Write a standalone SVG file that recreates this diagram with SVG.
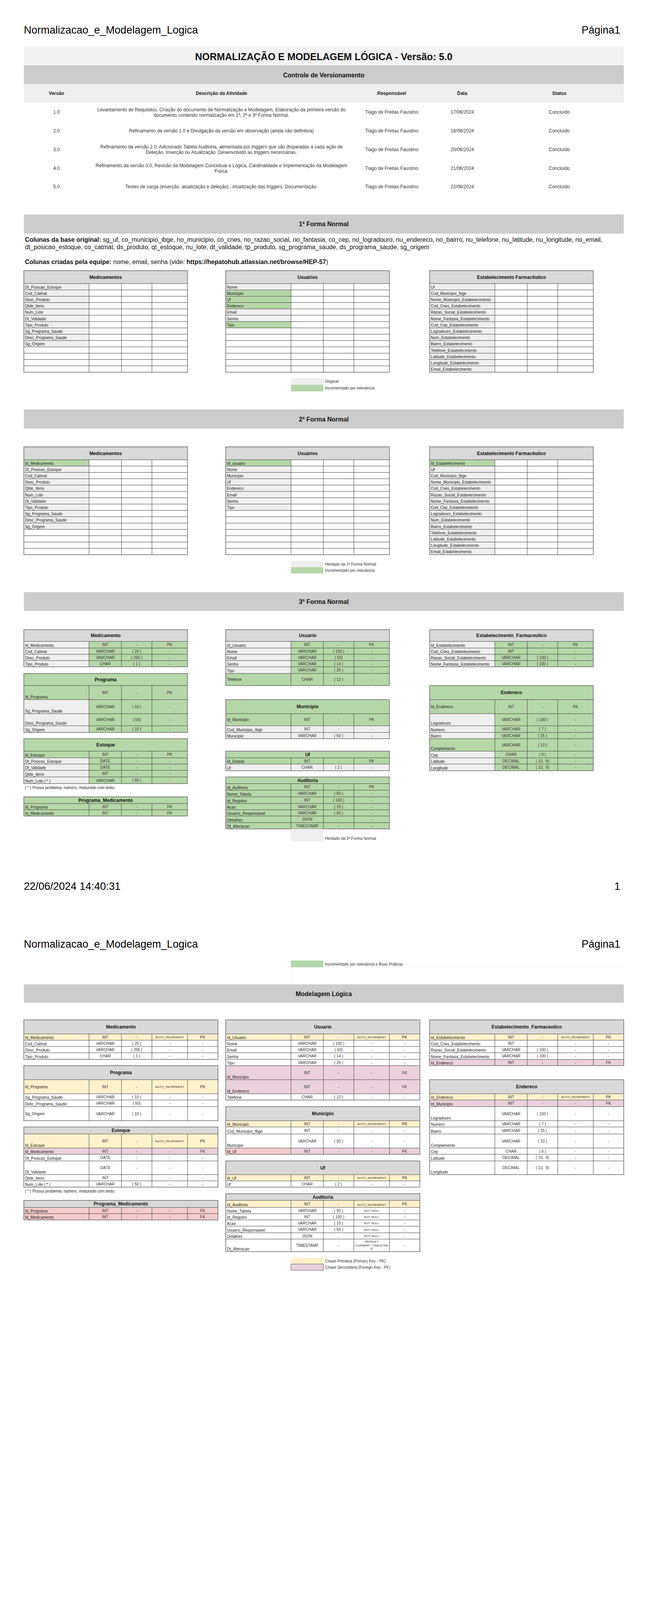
<svg xmlns="http://www.w3.org/2000/svg" xmlns:xlink="http://www.w3.org/1999/xlink" width="1654" height="4680" viewBox="0 0 1654 4680">
<style>
text{font-family:"Liberation Sans",Arial,Helvetica,sans-serif;fill:#222}
.pg{font-size:27px;fill:#000}
.ti{font-size:25px;font-weight:bold;text-anchor:middle;fill:#111}
.band{font-size:16px;font-weight:bold;text-anchor:middle;fill:#111}
.vh{font-size:12px;font-weight:bold;text-anchor:middle}
.vr{font-size:12px;text-anchor:middle;fill:#333}
.par{font-size:16px;fill:#111}
.b{font-weight:bold}
.n{font-size:10px}
.v{font-size:10px;text-anchor:middle;fill:#333}
.s{font-size:8px;text-anchor:middle;fill:#333}
.h{font-size:12px;font-weight:bold;text-anchor:middle;fill:#111}
.lg{font-size:10px;fill:#333}
.ln{fill:none;stroke:#3d3d3d;stroke-width:1}
.ob{fill:none;stroke:#6e6e6e;stroke-width:1.6}
.hd{fill:#d9d9d9}.gy{fill:#efefef}.gr{fill:#b6d7a8}.yl{fill:#fff2cc}.pu{fill:#ead1dc}.pk{fill:#f4cccc}.wh{fill:#fff}
</style>
<defs>
<path id="g14" class="ln" d="M0 0H419M0 16.2H419M0 32.4H419M0 48.6H419M0 64.8H419M0 81H419M0 97.2H419M0 113.4H419M0 129.6H419M0 145.8H419M0 162H419M0 178.2H419M0 194.4H419M0 210.6H419M167 0V226.8M250 0V226.8M328 0V226.8"/>
<path id="g15" class="ln" d="M0 0H419M0 16.2H419M0 32.4H419M0 48.6H419M0 64.8H419M0 81H419M0 97.2H419M0 113.4H419M0 129.6H419M0 145.8H419M0 162H419M0 178.2H419M0 194.4H419M0 210.6H419M0 226.8H419M167 0V243M250 0V243M328 0V243"/>
</defs>
<rect x="0" y="0" width="1654" height="4680" fill="#fff"/>

<!-- ================= PAGE 1 ================= -->
<g id="page1-header">
<text class="pg" x="61" y="86">Normalizacao_e_Modelagem_Logica</text>
<text class="pg" x="1588" y="86" text-anchor="end">Página1</text>
</g>

<g id="title">
<rect x="61" y="119" width="1536" height="48" fill="#f3f3f3"/>
<text class="ti" x="829" y="154">NORMALIZAÇÃO E MODELAGEM LÓGICA - Versão: 5.0</text>
</g>

<g id="versionamento">
<rect x="61" y="167" width="1536" height="48" fill="#cccccc"/>
<text class="band" x="829" y="198">Controle de Versionamento</text>
<rect x="61" y="215" width="1536" height="48" fill="#efefef"/>
<text class="vh" x="144.5" y="243">Versão</text>
<text class="vh" x="567" y="243">Descrição da Atividade</text>
<text class="vh" x="1003" y="243">Responsável</text>
<text class="vh" x="1183.5" y="243">Data</text>
<text class="vh" x="1432" y="243">Status</text>

<text class="vr" x="144.5" y="291">1.0</text>
<text class="vr" x="567" y="285">Levantamento de Requisitos, Criação do documento de Normalização e Modelagem, Elaboração da primeira versão do</text>
<text class="vr" x="567" y="299">documento contendo normalização em 1ª, 2ª e 3ª Forma Normal.</text>
<text class="vr" x="1003" y="291">Tiago de Freitas Faustino</text>
<text class="vr" x="1183.5" y="291">17/06/2024</text>
<text class="vr" x="1432" y="291">Concluído</text>

<text class="vr" x="144.5" y="339">2.0</text>
<text class="vr" x="567" y="339">Refinamento da versão 1.0 e Divulgação da versão em observação (ainda não definitiva)</text>
<text class="vr" x="1003" y="339">Tiago de Freitas Faustino</text>
<text class="vr" x="1183.5" y="339">18/06/2024</text>
<text class="vr" x="1432" y="339">Concluído</text>

<text class="vr" x="144.5" y="387">3.0</text>
<text class="vr" x="567" y="380">Refinamento da versão 2.0. Adicionado Tabela Auditoria, alimentada por triggers que são disparadas a cada ação de</text>
<text class="vr" x="567" y="394">Deleção, Inserção ou Atualização. Desenvolvido as triggers necessárias.</text>
<text class="vr" x="1003" y="387">Tiago de Freitas Faustino</text>
<text class="vr" x="1183.5" y="387">20/06/2024</text>
<text class="vr" x="1432" y="387">Concluído</text>

<text class="vr" x="144.5" y="435">4.0</text>
<text class="vr" x="567" y="428">Refinamento da versão 3.0, Revisão da Modelagem Conceitual e Lógica, Cardinalidade e Implementação da Modelagem</text>
<text class="vr" x="567" y="442">Física.</text>
<text class="vr" x="1003" y="435">Tiago de Freitas Faustino</text>
<text class="vr" x="1183.5" y="435">21/06/2024</text>
<text class="vr" x="1432" y="435">Concluído</text>

<text class="vr" x="144.5" y="482">5.0</text>
<text class="vr" x="567" y="482">Testes de carga (inserção, atualização e deleção) , Atualização das triggers, Documentação.</text>
<text class="vr" x="1003" y="482">Tiago de Freitas Faustino</text>
<text class="vr" x="1183.5" y="482">22/06/2024</text>
<text class="vr" x="1432" y="482">Concluído</text>
</g>

<!-- 1a Forma Normal -->
<g id="fn1-band">
<rect x="61" y="549" width="1536" height="49" fill="#cccccc"/>
<text class="band" x="829" y="579">1ª Forma Normal</text>
<text class="par" x="64" y="619"><tspan class="b">Colunas da base original:</tspan> sg_uf, co_municipio_ibge, no_municipio, co_cnes, no_razao_social, no_fantasia, co_cep, no_logradouro, nu_endereco, no_bairro, nu_telefone, nu_latitude, nu_longitude, no_email,</text>
<text class="par" x="64" y="638">dt_posicao_estoque, co_catmat, ds_produto, qt_estoque, nu_lote, dt_validade, tp_produto, sg_programa_saude,  ds_programa_saude, sg_origem</text>
<text class="par" x="64" y="676"><tspan class="b">Colunas criadas pela equipe:</tspan> nome, email, senha (vide: <tspan class="b">https://hepatohub.atlassian.net/browse/HEP-57</tspan>)</text>
</g>

<g id="fn1-medicamentos">
<rect class="wh" x="61" y="693" width="419" height="259.8"/>
<rect class="hd" x="61" y="693" width="419" height="33"/>
<rect class="gy" x="61" y="726" width="167" height="162"/>
<use xlink:href="#g14" href="#g14" x="61" y="726"/>
<rect class="ob" x="61" y="693" width="419" height="259.8"/>
<text class="h" x="270.5" y="714">Medicamentos</text>
<text class="n" x="64" y="738.6">Dt_Posicao_Estoque</text>
<text class="n" x="64" y="754.8">Cod_Catmat</text>
<text class="n" x="64" y="771">Desc_Produto</text>
<text class="n" x="64" y="787.2">Qtde_Itens</text>
<text class="n" x="64" y="803.4">Num_Lote</text>
<text class="n" x="64" y="819.6">Dt_Validade</text>
<text class="n" x="64" y="835.8">Tipo_Produto</text>
<text class="n" x="64" y="852">Sg_Programa_Saude</text>
<text class="n" x="64" y="868.2">Desc_Programa_Saude</text>
<text class="n" x="64" y="884.4">Sg_Origem</text>
</g>

<g id="fn1-usuarios">
<rect class="wh" x="578" y="693" width="419" height="259.8"/>
<rect class="hd" x="578" y="693" width="419" height="33"/>
<rect class="gy" x="578" y="726" width="167" height="16.2"/>
<rect class="gr" x="578" y="742.2" width="167" height="48.6"/>
<rect class="gy" x="578" y="790.8" width="167" height="32.4"/>
<rect class="gr" x="578" y="823.2" width="167" height="16.2"/>
<use xlink:href="#g14" href="#g14" x="578" y="726"/>
<rect class="ob" x="578" y="693" width="419" height="259.8"/>
<text class="h" x="787.5" y="714">Usuários</text>
<text class="n" x="581" y="738.6">Nome</text>
<text class="n" x="581" y="754.8">Municipio</text>
<text class="n" x="581" y="771">Uf</text>
<text class="n" x="581" y="787.2">Endereco</text>
<text class="n" x="581" y="803.4">Email</text>
<text class="n" x="581" y="819.6">Senha</text>
<text class="n" x="581" y="835.8">Tipo</text>
</g>

<g id="fn1-estabelecimento">
<rect class="wh" x="1100" y="693" width="419" height="259.8"/>
<rect class="hd" x="1100" y="693" width="419" height="33"/>
<rect class="gy" x="1100" y="726" width="167" height="226.8"/>
<use xlink:href="#g14" href="#g14" x="1100" y="726"/>
<rect class="ob" x="1100" y="693" width="419" height="259.8"/>
<text class="h" x="1309.5" y="714">Estabelecimento Farmacêutico</text>
<text class="n" x="1103" y="738.6">Uf</text>
<text class="n" x="1103" y="754.8">Cod_Municipio_Ibge</text>
<text class="n" x="1103" y="771">Nome_Municipio_Estabelecimento</text>
<text class="n" x="1103" y="787.2">Cod_Cnes_Estabelecimento</text>
<text class="n" x="1103" y="803.4">Razao_Social_Estabelecimento</text>
<text class="n" x="1103" y="819.6">Nome_Fantasia_Estabelecimento</text>
<text class="n" x="1103" y="835.8">Cod_Cep_Estabelecimento</text>
<text class="n" x="1103" y="852">Logradouro_Estabelecimento</text>
<text class="n" x="1103" y="868.2">Num_Estabelecimento</text>
<text class="n" x="1103" y="884.4">Bairro_Estabelecimento</text>
<text class="n" x="1103" y="900.6">Telefone_Estabelecimento</text>
<text class="n" x="1103" y="916.8">Latitude_Estabelecimento</text>
<text class="n" x="1103" y="933">Longitude_Estabelecimento</text>
<text class="n" x="1103" y="949.2">Email_Estabelecimento</text>
</g>

<g id="fn1-legend">
<rect class="gy" x="745" y="968" width="83" height="17"/>
<rect class="gr" x="745" y="985" width="83" height="17"/>
<text class="lg" x="832" y="980">Original</text>
<text class="lg" x="832" y="997">Incrementado por relevância</text>
</g>

<!-- 2a Forma Normal -->
<g id="fn2-band">
<rect x="61" y="1048" width="1536" height="49" fill="#cccccc"/>
<text class="band" x="829" y="1079">2ª Forma Normal</text>
</g>

<g id="fn2-medicamentos">
<rect class="wh" x="61" y="1144" width="419" height="276"/>
<rect class="hd" x="61" y="1144" width="419" height="33"/>
<rect class="gr" x="61" y="1177" width="167" height="16.2"/>
<rect class="gy" x="61" y="1193.2" width="167" height="162"/>
<use xlink:href="#g15" href="#g15" x="61" y="1177"/>
<rect class="ob" x="61" y="1144" width="419" height="276"/>
<text class="h" x="270.5" y="1165">Medicamentos</text>
<text class="n" x="64" y="1189.6">Id_Medicamento</text>
<text class="n" x="64" y="1205.8">Dt_Posicao_Estoque</text>
<text class="n" x="64" y="1222">Cod_Catmat</text>
<text class="n" x="64" y="1238.2">Desc_Produto</text>
<text class="n" x="64" y="1254.4">Qtde_Itens</text>
<text class="n" x="64" y="1270.6">Num_Lote</text>
<text class="n" x="64" y="1286.8">Dt_Validade</text>
<text class="n" x="64" y="1303">Tipo_Produto</text>
<text class="n" x="64" y="1319.2">Sg_Programa_Saude</text>
<text class="n" x="64" y="1335.4">Desc_Programa_Saude</text>
<text class="n" x="64" y="1351.6">Sg_Origem</text>
</g>

<g id="fn2-usuarios">
<rect class="wh" x="578" y="1144" width="419" height="276"/>
<rect class="hd" x="578" y="1144" width="419" height="33"/>
<rect class="gr" x="578" y="1177" width="167" height="16.2"/>
<rect class="gy" x="578" y="1193.2" width="167" height="113.4"/>
<use xlink:href="#g15" href="#g15" x="578" y="1177"/>
<rect class="ob" x="578" y="1144" width="419" height="276"/>
<text class="h" x="787.5" y="1165">Usuários</text>
<text class="n" x="581" y="1189.6">Id_usuario</text>
<text class="n" x="581" y="1205.8">Nome</text>
<text class="n" x="581" y="1222">Municipio</text>
<text class="n" x="581" y="1238.2">Uf</text>
<text class="n" x="581" y="1254.4">Endereco</text>
<text class="n" x="581" y="1270.6">Email</text>
<text class="n" x="581" y="1286.8">Senha</text>
<text class="n" x="581" y="1303">Tipo</text>
</g>

<g id="fn2-estabelecimento">
<rect class="wh" x="1100" y="1144" width="419" height="276"/>
<rect class="hd" x="1100" y="1144" width="419" height="33"/>
<rect class="gr" x="1100" y="1177" width="167" height="16.2"/>
<rect class="gy" x="1100" y="1193.2" width="167" height="226.8"/>
<use xlink:href="#g15" href="#g15" x="1100" y="1177"/>
<rect class="ob" x="1100" y="1144" width="419" height="276"/>
<text class="h" x="1309.5" y="1165">Estabelecimento Farmacêutico</text>
<text class="n" x="1103" y="1189.6">Id_Estabelecimento</text>
<text class="n" x="1103" y="1205.8">Uf</text>
<text class="n" x="1103" y="1222">Cod_Municipio_Ibge</text>
<text class="n" x="1103" y="1238.2">Nome_Municipio_Estabelecimento</text>
<text class="n" x="1103" y="1254.4">Cod_Cnes_Estabelecimento</text>
<text class="n" x="1103" y="1270.6">Razao_Social_Estabelecimento</text>
<text class="n" x="1103" y="1286.8">Nome_Fantasia_Estabelecimento</text>
<text class="n" x="1103" y="1303">Cod_Cep_Estabelecimento</text>
<text class="n" x="1103" y="1319.2">Logradouro_Estabelecimento</text>
<text class="n" x="1103" y="1335.4">Num_Estabelecimento</text>
<text class="n" x="1103" y="1351.6">Bairro_Estabelecimento</text>
<text class="n" x="1103" y="1367.8">Telefone_Estabelecimento</text>
<text class="n" x="1103" y="1384">Latitude_Estabelecimento</text>
<text class="n" x="1103" y="1400.2">Longitude_Estabelecimento</text>
<text class="n" x="1103" y="1416.4">Email_Estabelecimento</text>
</g>

<g id="fn2-legend">
<rect class="gy" x="745" y="1436" width="83" height="16"/>
<rect class="gr" x="745" y="1452" width="83" height="16"/>
<text class="lg" x="832" y="1448">Herdado da 1ª Forma Normal</text>
<text class="lg" x="832" y="1464">Incrementado por relevância</text>
</g>

<!-- 3a Forma Normal -->
<g id="fn3-band">
<rect x="61" y="1516" width="1536" height="48" fill="#cccccc"/>
<text class="band" x="829" y="1546">3ª Forma Normal</text>
</g>

<g id="fn3-medicamento">
<rect class="gr" x="61" y="1612" width="419" height="95"/>
<rect class="hd" x="61" y="1612" width="419" height="30"/>
<rect class="gy" x="61" y="1642" width="167" height="65"/>
<path class="ln" d="M61 1642H480M61 1659H480M61 1675H480M61 1691H480M228 1642V1707M311 1642V1707M389 1642V1707"/>
<rect class="ob" x="61" y="1612" width="419" height="95"/>
<text class="h" x="270.5" y="1631">Medicamento</text>
<text class="n" x="64" y="1655.5">Id_Medicamento</text><text class="v" x="269.5" y="1654">INT</text><text class="v" x="350" y="1654">-</text><text class="v" x="434.5" y="1654">PK</text>
<text class="n" x="64" y="1671.5">Cod_Catmat</text><text class="v" x="269.5" y="1670.5">VARCHAR</text><text class="v" x="350" y="1670.5">( 25 )</text><text class="v" x="434.5" y="1670.5">-</text>
<text class="n" x="64" y="1687.5">Desc_Produto</text><text class="v" x="269.5" y="1686.5">VARCHAR</text><text class="v" x="350" y="1686.5">( 255 )</text><text class="v" x="434.5" y="1686.5">-</text>
<text class="n" x="64" y="1703.5">Tipo_Produto</text><text class="v" x="269.5" y="1702.5">CHAR</text><text class="v" x="350" y="1702.5">( 1 )</text><text class="v" x="434.5" y="1702.5">-</text>
</g>

<g id="fn3-programa">
<rect class="gr" x="61" y="1724" width="419" height="151"/>
<rect class="gy" x="61" y="1791" width="167" height="84"/>
<path class="ln" d="M61 1755H480M61 1791H480M61 1827H480M61 1858H480M228 1755V1875M311 1755V1875M389 1755V1875"/>
<rect class="ob" x="61" y="1724" width="419" height="151"/>
<text class="h" x="270.5" y="1743.5">Programa</text>
<text class="n" x="64" y="1787.5">Id_Programa</text><text class="v" x="269.5" y="1776.5">INT</text><text class="v" x="350" y="1776.5">-</text><text class="v" x="434.5" y="1776.5">PK</text>
<text class="n" x="64" y="1823.5">Sg_Programa_Saude</text><text class="v" x="269.5" y="1812.5">VARCHAR</text><text class="v" x="350" y="1812.5">( 10 )</text><text class="v" x="434.5" y="1812.5">-</text>
<text class="n" x="64" y="1854.5">Desc_Programa_Saude</text><text class="v" x="269.5" y="1846">VARCHAR</text><text class="v" x="350" y="1846">( 50)</text><text class="v" x="434.5" y="1846">-</text>
<text class="n" x="64" y="1871.5">Sg_Origem</text><text class="v" x="269.5" y="1870">VARCHAR</text><text class="v" x="350" y="1870">( 10 )</text><text class="v" x="434.5" y="1870">-</text>
</g>

<g id="fn3-estoque">
<rect class="gr" x="61" y="1891" width="419" height="115"/>
<rect class="gy" x="61" y="1940" width="167" height="66"/>
<path class="ln" d="M61 1923H480M61 1940H480M61 1956H480M61 1972H480M61 1989H480M228 1923V2006M311 1923V2006M389 1923V2006"/>
<rect class="ob" x="61" y="1891" width="419" height="115"/>
<text class="h" x="270.5" y="1911">Estoque</text>
<text class="n" x="64" y="1936.5">Id_Estoque</text><text class="v" x="269.5" y="1935">INT</text><text class="v" x="350" y="1935">-</text><text class="v" x="434.5" y="1935">PK</text>
<text class="n" x="64" y="1952.5">Dt_Posicao_Estoque</text><text class="v" x="269.5" y="1951.5">DATE</text><text class="v" x="350" y="1951.5">-</text><text class="v" x="434.5" y="1951.5">-</text>
<text class="n" x="64" y="1968.5">Dt_Validade</text><text class="v" x="269.5" y="1967.5">DATE</text><text class="v" x="350" y="1967.5">-</text><text class="v" x="434.5" y="1967.5">-</text>
<text class="n" x="64" y="1985.5">Qtde_Itens</text><text class="v" x="269.5" y="1984">INT</text><text class="v" x="350" y="1984">-</text><text class="v" x="434.5" y="1984">-</text>
<text class="n" x="64" y="2002.5">Num_Lote ( * )</text><text class="v" x="269.5" y="2002">VARCHAR</text><text class="v" x="350" y="2001">( 50 )</text><text class="v" x="434.5" y="2001">-</text>
<text class="n" x="64" y="2020">( * ) Possui problema: número, misturado com texto.</text>
</g>

<g id="fn3-programa-medicamento">
<rect class="gr" x="61" y="2040" width="419" height="49"/>
<path class="ln" d="M61 2057H480M61 2073H480M228 2057V2089M311 2057V2089M389 2057V2089"/>
<rect class="ob" x="61" y="2040" width="419" height="49"/>
<text class="h" x="270.5" y="2052.5">Programa_Medicamento</text>
<text class="n" x="64" y="2069.5">Id_Programa</text><text class="v" x="269.5" y="2068.5">INT</text><text class="v" x="350" y="2068.5">-</text><text class="v" x="434.5" y="2068.5">FK</text>
<text class="n" x="64" y="2085.5">Id_Medicamento</text><text class="v" x="269.5" y="2084.5">INT</text><text class="v" x="350" y="2084.5">-</text><text class="v" x="434.5" y="2084.5">FK</text>
</g>

<g id="fn3-usuario">
<rect class="gr" x="578" y="1612" width="419" height="143"/>
<rect class="hd" x="578" y="1612" width="419" height="30"/>
<rect class="gy" x="578" y="1642" width="167" height="82"/>
<path class="ln" d="M578 1642H997M578 1659H997M578 1675H997M578 1691H997M578 1707H997M578 1724H997M745 1642V1755M828 1642V1755M906 1642V1755"/>
<rect class="ob" x="578" y="1612" width="419" height="143"/>
<text class="h" x="787.5" y="1631">Usuario</text>
<text class="n" x="581" y="1655.5">Id_Usuario</text><text class="v" x="786.5" y="1654">INT</text><text class="v" x="867" y="1654">-</text><text class="v" x="951.5" y="1654">PK</text>
<text class="n" x="581" y="1671.5">Nome</text><text class="v" x="786.5" y="1670.5">VARCHAR</text><text class="v" x="867" y="1670.5">( 100 )</text><text class="v" x="951.5" y="1670.5">-</text>
<text class="n" x="581" y="1687.5">Email</text><text class="v" x="786.5" y="1686.5">VARCHAR</text><text class="v" x="867" y="1686.5">( 50)</text><text class="v" x="951.5" y="1686.5">-</text>
<text class="n" x="581" y="1703.5">Senha</text><text class="v" x="786.5" y="1702.5">VARCHAR</text><text class="v" x="867" y="1702.5">( 14 )</text><text class="v" x="951.5" y="1702.5">-</text>
<text class="n" x="581" y="1720.5">Tipo</text><text class="v" x="786.5" y="1719">VARCHAR</text><text class="v" x="867" y="1719">( 25 )</text><text class="v" x="951.5" y="1719">-</text>
<text class="n" x="581" y="1743">Telefone</text><text class="v" x="786.5" y="1743">CHAR</text><text class="v" x="867" y="1743">( 12 )</text><text class="v" x="951.5" y="1743">-</text>
</g>

<g id="fn3-municipio">
<rect class="gr" x="578" y="1791" width="419" height="67"/>
<rect class="gy" x="578" y="1858" width="419" height="33"/>
<path class="ln" d="M578 1827H997M578 1858H997M578 1875H997M745 1827V1891M828 1827V1891M906 1827V1891"/>
<rect class="ob" x="578" y="1791" width="419" height="100"/>
<text class="h" x="787.5" y="1813">Municipio</text>
<text class="n" x="581" y="1846">Id_Municipio</text><text class="v" x="786.5" y="1846">INT</text><text class="v" x="867" y="1846">-</text><text class="v" x="951.5" y="1846">PK</text>
<text class="n" x="581" y="1871.5">Cod_Municipio_Ibge</text><text class="v" x="786.5" y="1870">INT</text><text class="v" x="867" y="1870">-</text><text class="v" x="951.5" y="1870">-</text>
<text class="n" x="581" y="1887.5">Municipio</text><text class="v" x="786.5" y="1886.5">VARCHAR</text><text class="v" x="867" y="1886.5">( 50 )</text><text class="v" x="951.5" y="1886.5">-</text>
</g>

<g id="fn3-uf">
<rect class="gr" x="578" y="1923" width="419" height="33"/>
<rect class="gy" x="578" y="1956" width="419" height="17"/>
<path class="ln" d="M578 1940H997M578 1956H997M745 1940V1973M828 1940V1973M906 1940V1973"/>
<rect class="ob" x="578" y="1923" width="419" height="50"/>
<text class="h" x="787.5" y="1935.5">Uf</text>
<text class="n" x="581" y="1952.5">Id_Estado</text><text class="v" x="786.5" y="1951.5">INT</text><text class="v" x="867" y="1951.5">-</text><text class="v" x="951.5" y="1951.5">PK</text>
<text class="n" x="581" y="1969.5">Uf</text><text class="v" x="786.5" y="1968">CHAR</text><text class="v" x="867" y="1968">( 2 )</text><text class="v" x="951.5" y="1968">-</text>
</g>

<g id="fn3-auditoria">
<rect class="gr" x="578" y="1989" width="419" height="133"/>
<path class="ln" d="M578 2006H997M578 2023H997M578 2040H997M578 2057H997M578 2073H997M578 2089H997M578 2106H997M745 2006V2122M828 2006V2122M906 2006V2122"/>
<rect class="ob" x="578" y="1989" width="419" height="133"/>
<text class="h" x="787.5" y="2001.5">Auditoria</text>
<text class="n" x="581" y="2019.5">Id_Auditoria</text><text class="v" x="786.5" y="2018">INT</text><text class="v" x="867" y="2018">-</text><text class="v" x="951.5" y="2018">PK</text>
<text class="n" x="581" y="2036.5">Nome_Tabela</text><text class="v" x="786.5" y="2035">VARCHAR</text><text class="v" x="867" y="2035">( 50 )</text><text class="v" x="951.5" y="2035">-</text>
<text class="n" x="581" y="2053.5">Id_Registro</text><text class="v" x="786.5" y="2052">INT</text><text class="v" x="867" y="2052">( 100 )</text><text class="v" x="951.5" y="2052">-</text>
<text class="n" x="581" y="2069.5">Acao</text><text class="v" x="786.5" y="2068.5">VARCHAR</text><text class="v" x="867" y="2068.5">( 15 )</text><text class="v" x="951.5" y="2068.5">-</text>
<text class="n" x="581" y="2085.5">Usuario_Responsavel</text><text class="v" x="786.5" y="2084.5">VARCHAR</text><text class="v" x="867" y="2084.5">( 50 )</text><text class="v" x="951.5" y="2084.5">-</text>
<text class="n" x="581" y="2102.5">Detalhes</text><text class="v" x="786.5" y="2101">JSON</text><text class="v" x="867" y="2101">-</text><text class="v" x="951.5" y="2101">-</text>
<text class="n" x="581" y="2118.5">Dt_Alteracao</text><text class="v" x="786.5" y="2117.5">TIMESTAMP</text><text class="v" x="867" y="2117.5">-</text><text class="v" x="951.5" y="2117.5">-</text>
</g>

<g id="fn3-legend">
<rect class="gy" x="745" y="2122" width="83" height="32"/>
<text class="lg" x="832" y="2149.5">Herdado da 2ª Forma Normal</text>
</g>

<g id="fn3-estabelecimento">
<rect class="gr" x="1100" y="1612" width="419" height="95"/>
<rect class="hd" x="1100" y="1612" width="419" height="30"/>
<rect class="gy" x="1100" y="1642" width="167" height="65"/>
<path class="ln" d="M1100 1642H1519M1100 1659H1519M1100 1675H1519M1100 1691H1519M1267 1642V1707M1350 1642V1707M1428 1642V1707"/>
<rect class="ob" x="1100" y="1612" width="419" height="95"/>
<text class="h" x="1309.5" y="1631">Estabelecimento_Farmaceutico</text>
<text class="n" x="1103" y="1655.5">Id_Estabelecimento</text><text class="v" x="1308.5" y="1654">INT</text><text class="v" x="1389" y="1654">-</text><text class="v" x="1473.5" y="1654">PK</text>
<text class="n" x="1103" y="1671.5">Cod_Cnes_Estabelecimento</text><text class="v" x="1308.5" y="1670.5">INT</text><text class="v" x="1389" y="1670.5">-</text><text class="v" x="1473.5" y="1670.5">-</text>
<text class="n" x="1103" y="1687.5">Razao_Social_Estabelecimento</text><text class="v" x="1308.5" y="1686.5">VARCHAR</text><text class="v" x="1389" y="1686.5">( 100 )</text><text class="v" x="1473.5" y="1686.5">-</text>
<text class="n" x="1103" y="1703.5">Nome_Fantasia_Estabelecimento</text><text class="v" x="1308.5" y="1702.5">VARCHAR</text><text class="v" x="1389" y="1702.5">( 100 )</text><text class="v" x="1473.5" y="1702.5">-</text>
</g>

<g id="fn3-endereco">
<rect class="gr" x="1100" y="1755" width="419" height="218"/>
<rect class="gy" x="1100" y="1827" width="167" height="64"/>
<rect class="gy" x="1100" y="1923" width="167" height="50"/>
<path class="ln" d="M1100 1791H1519M1100 1827H1519M1100 1858H1519M1100 1875H1519M1100 1891H1519M1100 1923H1519M1100 1940H1519M1100 1956H1519M1267 1791V1973M1350 1791V1973M1428 1791V1973"/>
<rect class="ob" x="1100" y="1755" width="419" height="218"/>
<text class="h" x="1309.5" y="1777">Endereco</text>
<text class="n" x="1103" y="1813">Id_Endereco</text><text class="v" x="1308.5" y="1813">INT</text><text class="v" x="1389" y="1813">-</text><text class="v" x="1473.5" y="1813">PK</text>
<text class="n" x="1103" y="1854.5">Logradouro</text><text class="v" x="1308.5" y="1846">VARCHAR</text><text class="v" x="1389" y="1846">( 100 )</text><text class="v" x="1473.5" y="1846">-</text>
<text class="n" x="1103" y="1871.5">Numero</text><text class="v" x="1308.5" y="1870">VARCHAR</text><text class="v" x="1389" y="1870">( 7 )</text><text class="v" x="1473.5" y="1870">-</text>
<text class="n" x="1103" y="1887.5">Bairro</text><text class="v" x="1308.5" y="1886.5">VARCHAR</text><text class="v" x="1389" y="1886.5">( 25 )</text><text class="v" x="1473.5" y="1886.5">-</text>
<text class="n" x="1103" y="1919.5">Complemento</text><text class="v" x="1308.5" y="1910.5">VARCHAR</text><text class="v" x="1389" y="1910.5">( 10 )</text><text class="v" x="1473.5" y="1910.5">-</text>
<text class="n" x="1103" y="1936.5">Cep</text><text class="v" x="1308.5" y="1935">CHAR</text><text class="v" x="1389" y="1935">( 8 )</text><text class="v" x="1473.5" y="1935">-</text>
<text class="n" x="1103" y="1952.5">Latitude</text><text class="v" x="1308.5" y="1951.5">DECIMAL</text><text class="v" x="1389" y="1951.5">( 10,&#160; 8)</text><text class="v" x="1473.5" y="1951.5">-</text>
<text class="n" x="1103" y="1969.5">Longitude</text><text class="v" x="1308.5" y="1968">DECIMAL</text><text class="v" x="1389" y="1968">( 10,&#160; 8)</text><text class="v" x="1473.5" y="1968">-</text>
</g>

<g id="page1-footer">
<text class="pg" x="61" y="2278">22/06/2024 14:40:31</text>
<text class="pg" x="1588" y="2278" text-anchor="end">1</text>
</g>

<!-- ================= PAGE 2 ================= -->
<g id="page2-header">
<text class="pg" x="61" y="2426">Normalizacao_e_Modelagem_Logica</text>
<text class="pg" x="1588" y="2426" text-anchor="end">Página1</text>
</g>

<g id="fn3-legend-cont">
<rect class="gr" x="745" y="2459" width="83" height="17"/>
<text class="lg" x="832" y="2472">Incrementado por relevância e Boas Práticas</text>
<path d="M745 2477H1597M745 2477V2518" fill="none" stroke="#f0f0f0" stroke-width="1"/>
</g>

<g id="ml-band">
<rect x="61" y="2520" width="1536" height="47" fill="#cccccc"/>
<text class="band" x="829" y="2550">Modelagem Lógica</text>
</g>

<g id="ml-medicamento">
<rect class="wh" x="61" y="2611" width="497" height="101"/>
<rect class="hd" x="61" y="2611" width="497" height="36"/>
<rect class="yl" x="61" y="2647" width="497" height="16"/>
<path class="ln" d="M61 2647H558M61 2663H558M61 2679H558M61 2695H558M228 2647V2712M311 2647V2712M389 2647V2712M480 2647V2712"/>
<rect class="ob" x="61" y="2611" width="497" height="101"/>
<text class="h" x="309.5" y="2633">Medicamento</text>
<text class="n" x="64" y="2659.5">Id_Medicamento</text><text class="v" x="269.5" y="2658.5">INT</text><text class="v" x="350" y="2658.5">-</text><text class="s" x="434.5" y="2658">AUTO_INCREMENT</text><text class="v" x="519" y="2658.5">PK</text>
<text class="n" x="64" y="2675.5">Cod_Catmat</text><text class="v" x="269.5" y="2674.5">VARCHAR</text><text class="v" x="350" y="2674.5">( 25 )</text><text class="v" x="434.5" y="2674.5">-</text><text class="v" x="519" y="2674.5">-</text>
<text class="n" x="64" y="2691.5">Desc_Produto</text><text class="v" x="269.5" y="2690.5">VARCHAR</text><text class="v" x="350" y="2690.5">( 255 )</text><text class="v" x="434.5" y="2690.5">-</text><text class="v" x="519" y="2690.5">-</text>
<text class="n" x="64" y="2708.5">Tipo_Produto</text><text class="v" x="269.5" y="2707">CHAR</text><text class="v" x="350" y="2707">( 1 )</text><text class="v" x="434.5" y="2707">-</text><text class="v" x="519" y="2707">-</text>
</g>

<g id="ml-programa">
<rect class="wh" x="61" y="2728" width="497" height="141"/>
<rect class="hd" x="61" y="2728" width="497" height="36"/>
<rect class="yl" x="61" y="2764" width="497" height="36"/>
<path class="ln" d="M61 2764H558M61 2800H558M61 2816H558M61 2833H558M228 2764V2869M311 2764V2869M389 2764V2869M480 2764V2869"/>
<rect class="ob" x="61" y="2728" width="497" height="141"/>
<text class="h" x="309.5" y="2750">Programa</text>
<text class="n" x="64" y="2785.5">Id_Programa</text><text class="v" x="269.5" y="2785.5">INT</text><text class="v" x="350" y="2785.5">-</text><text class="s" x="434.5" y="2785">AUTO_INCREMENT</text><text class="v" x="519" y="2785.5">PK</text>
<text class="n" x="64" y="2812.5">Sg_Programa_Saude</text><text class="v" x="269.5" y="2811.5">VARCHAR</text><text class="v" x="350" y="2811.5">( 10 )</text><text class="v" x="434.5" y="2811.5">-</text><text class="v" x="519" y="2811.5">-</text>
<text class="n" x="64" y="2829.5">Desc_Programa_Saude</text><text class="v" x="269.5" y="2828">VARCHAR</text><text class="v" x="350" y="2828">( 50)</text><text class="v" x="434.5" y="2828">-</text><text class="v" x="519" y="2828">-</text>
<text class="n" x="64" y="2854.5">Sg_Origem</text><text class="v" x="269.5" y="2854.5">VARCHAR</text><text class="v" x="350" y="2854.5">( 10 )</text><text class="v" x="434.5" y="2854.5">-</text><text class="v" x="519" y="2854.5">-</text>
</g>

<g id="ml-estoque">
<rect class="wh" x="61" y="2885" width="497" height="154"/>
<rect class="hd" x="61" y="2885" width="497" height="18"/>
<rect class="yl" x="61" y="2903" width="497" height="36"/>
<rect class="pu" x="61" y="2939" width="497" height="16"/>
<path class="ln" d="M61 2903H558M61 2939H558M61 2955H558M61 2972H558M61 3007H558M61 3023H558M228 2903V3039M311 2903V3039M389 2903V3039M480 2903V3039"/>
<rect class="ob" x="61" y="2885" width="497" height="154"/>
<text class="h" x="309.5" y="2898">Estoque</text>
<text class="n" x="64" y="2935.5">Id_Estoque</text><text class="v" x="269.5" y="2924.5">INT</text><text class="v" x="350" y="2924.5">-</text><text class="s" x="434.5" y="2924">AUTO_INCREMENT</text><text class="v" x="519" y="2924.5">PK</text>
<text class="n" x="64" y="2951.5">Id_Medicamento</text><text class="v" x="269.5" y="2950.5">INT</text><text class="v" x="350" y="2950.5">-</text><text class="v" x="434.5" y="2950.5">-</text><text class="v" x="519" y="2950.5">FK</text>
<text class="n" x="64" y="2968.5">Dt_Posicao_Estoque</text><text class="v" x="269.5" y="2967">DATE</text><text class="v" x="350" y="2967">-</text><text class="v" x="434.5" y="2967">-</text><text class="v" x="519" y="2967">-</text>
<text class="n" x="64" y="3003.5">Dt_Validade</text><text class="v" x="269.5" y="2993">DATE</text><text class="v" x="350" y="2993">-</text><text class="v" x="434.5" y="2993">-</text><text class="v" x="519" y="2993">-</text>
<text class="n" x="64" y="3019.5">Qtde_Itens</text><text class="v" x="269.5" y="3018.5">INT</text><text class="v" x="350" y="3018.5">-</text><text class="v" x="434.5" y="3018.5">-</text><text class="v" x="519" y="3018.5">-</text>
<text class="n" x="64" y="3035.5">Num_Lote ( * )</text><text class="v" x="269.5" y="3035">VARCHAR</text><text class="v" x="350" y="3034.5">( 50 )</text><text class="v" x="434.5" y="3034.5">-</text><text class="v" x="519" y="3034.5">-</text>
<text class="n" x="64" y="3053">( * ) Possui problema: número, misturado com texto.</text>
</g>

<g id="ml-programa-medicamento">
<rect class="hd" x="61" y="3073" width="497" height="18"/>
<rect class="pk" x="61" y="3091" width="497" height="32"/>
<path class="ln" d="M61 3091H558M61 3107H558M228 3091V3123M311 3091V3123M389 3091V3123M480 3091V3123"/>
<rect class="ob" x="61" y="3073" width="497" height="50"/>
<text class="h" x="309.5" y="3086">Programa_Medicamento</text>
<text class="n" x="64" y="3103.5">Id_Programa</text><text class="v" x="269.5" y="3102.5">INT</text><text class="v" x="350" y="3102.5">-</text><text class="v" x="434.5" y="3102.5">-</text><text class="v" x="519" y="3102.5">FK</text>
<text class="n" x="64" y="3119.5">Id_Medicamento</text><text class="v" x="269.5" y="3118.5">INT</text><text class="v" x="350" y="3118.5">-</text><text class="v" x="434.5" y="3118.5">-</text><text class="v" x="519" y="3118.5">FK</text>
</g>

<g id="ml-usuario">
<rect class="wh" x="578" y="2611" width="497" height="205"/>
<rect class="hd" x="578" y="2611" width="497" height="36"/>
<rect class="yl" x="578" y="2647" width="497" height="16"/>
<rect class="pu" x="578" y="2728" width="497" height="72"/>
<path class="ln" d="M578 2647H1075M578 2663H1075M578 2679H1075M578 2695H1075M578 2712H1075M578 2728H1075M578 2764H1075M578 2800H1075M745 2647V2816M828 2647V2816M906 2647V2816M997 2647V2816"/>
<rect class="ob" x="578" y="2611" width="497" height="205"/>
<text class="h" x="826.5" y="2633">Usuario</text>
<text class="n" x="581" y="2659.5">Id_Usuario</text><text class="v" x="786.5" y="2658.5">INT</text><text class="v" x="867" y="2658.5">-</text><text class="s" x="951.5" y="2658">AUTO_INCREMENT</text><text class="v" x="1036" y="2658.5">PK</text>
<text class="n" x="581" y="2675.5">Nome</text><text class="v" x="786.5" y="2674.5">VARCHAR</text><text class="v" x="867" y="2674.5">( 100 )</text><text class="v" x="951.5" y="2674.5">-</text><text class="v" x="1036" y="2674.5">-</text>
<text class="n" x="581" y="2691.5">Email</text><text class="v" x="786.5" y="2690.5">VARCHAR</text><text class="v" x="867" y="2690.5">( 50)</text><text class="v" x="951.5" y="2690.5">-</text><text class="v" x="1036" y="2690.5">-</text>
<text class="n" x="581" y="2708.5">Senha</text><text class="v" x="786.5" y="2707">VARCHAR</text><text class="v" x="867" y="2707">( 14 )</text><text class="v" x="951.5" y="2707">-</text><text class="v" x="1036" y="2707">-</text>
<text class="n" x="581" y="2724.5">Tipo</text><text class="v" x="786.5" y="2723.5">VARCHAR</text><text class="v" x="867" y="2723.5">( 25 )</text><text class="v" x="951.5" y="2723.5">-</text><text class="v" x="1036" y="2723.5">-</text>
<text class="n" x="581" y="2760.5">Id_Municipio</text><text class="v" x="786.5" y="2749.5">INT</text><text class="v" x="867" y="2749.5">-</text><text class="v" x="951.5" y="2749.5">-</text><text class="v" x="1036" y="2749.5">FK</text>
<text class="n" x="581" y="2796.5">Id_Endereco</text><text class="v" x="786.5" y="2785.5">INT</text><text class="v" x="867" y="2785.5">-</text><text class="v" x="951.5" y="2785.5">-</text><text class="v" x="1036" y="2785.5">FK</text>
<text class="n" x="581" y="2812.5">Telefone</text><text class="v" x="786.5" y="2811.5">CHAR</text><text class="v" x="867" y="2811.5">( 12 )</text><text class="v" x="951.5" y="2811.5">-</text><text class="v" x="1036" y="2811.5">-</text>
</g>

<g id="ml-municipio">
<rect class="wh" x="578" y="2833" width="497" height="122"/>
<rect class="hd" x="578" y="2833" width="497" height="36"/>
<rect class="yl" x="578" y="2869" width="497" height="16"/>
<rect class="pu" x="578" y="2939" width="497" height="16"/>
<rect class="pk" x="578" y="2939" width="167" height="16"/>
<path class="ln" d="M578 2869H1075M578 2885H1075M578 2903H1075M578 2939H1075M745 2869V2955M828 2869V2955M906 2869V2955M997 2869V2955"/>
<rect class="ob" x="578" y="2833" width="497" height="122"/>
<text class="h" x="826.5" y="2855">Municipio</text>
<text class="n" x="581" y="2881.5">Id_Municipio</text><text class="v" x="786.5" y="2880.5">INT</text><text class="v" x="867" y="2880.5">-</text><text class="s" x="951.5" y="2880">AUTO_INCREMENT</text><text class="v" x="1036" y="2880.5">PK</text>
<text class="n" x="581" y="2899.5">Cod_Municipio_Ibge</text><text class="v" x="786.5" y="2897.5">INT</text><text class="v" x="867" y="2897.5">-</text><text class="v" x="951.5" y="2897.5">-</text><text class="v" x="1036" y="2897.5">-</text>
<text class="n" x="581" y="2935.5">Municipio</text><text class="v" x="786.5" y="2924.5">VARCHAR</text><text class="v" x="867" y="2924.5">( 50 )</text><text class="v" x="951.5" y="2924.5">-</text><text class="v" x="1036" y="2924.5">-</text>
<text class="n" x="581" y="2951.5">Id_Uf</text><text class="v" x="786.5" y="2950.5">INT</text><text class="v" x="867" y="2950.5">-</text><text class="v" x="951.5" y="2950.5">-</text><text class="v" x="1036" y="2950.5">FK</text>
</g>

<g id="ml-uf">
<rect class="wh" x="578" y="2972" width="497" height="67"/>
<rect class="hd" x="578" y="2972" width="497" height="35"/>
<rect class="yl" x="578" y="3007" width="497" height="16"/>
<path class="ln" d="M578 3007H1075M578 3023H1075M745 3007V3039M828 3007V3039M906 3007V3039M997 3007V3039"/>
<rect class="ob" x="578" y="2972" width="497" height="67"/>
<text class="h" x="826.5" y="2993.5">Uf</text>
<text class="n" x="581" y="3019.5">Id_Uf</text><text class="v" x="786.5" y="3018.5">INT</text><text class="v" x="867" y="3018.5">-</text><text class="s" x="951.5" y="3018">AUTO_INCREMENT</text><text class="v" x="1036" y="3018.5">PK</text>
<text class="n" x="581" y="3035.5">Uf</text><text class="v" x="786.5" y="3034.5">CHAR</text><text class="v" x="867" y="3034.5">( 2 )</text><text class="v" x="951.5" y="3034.5">-</text><text class="v" x="1036" y="3034.5">-</text>
</g>

<g id="ml-auditoria">
<rect class="wh" x="578" y="3056" width="497" height="148"/>
<rect class="hd" x="578" y="3056" width="497" height="17"/>
<rect class="yl" x="578" y="3073" width="497" height="18"/>
<path class="ln" d="M578 3073H1075M578 3091H1075M578 3107H1075M578 3123H1075M578 3139H1075M578 3156H1075M578 3172H1075M745 3073V3204M828 3073V3204M906 3073V3204M997 3073V3204"/>
<rect class="ob" x="578" y="3056" width="497" height="148"/>
<text class="h" x="826.5" y="3068.5">Auditoria</text>
<text class="n" x="581" y="3087.5">Id_Auditoria</text><text class="v" x="786.5" y="3085.5">INT</text><text class="v" x="867" y="3085.5">-</text><text class="s" x="951.5" y="3087">AUTO_INCREMENT</text><text class="v" x="1036" y="3085.5">PK</text>
<text class="n" x="581" y="3103.5">Nome_Tabela</text><text class="v" x="786.5" y="3102.5">VARCHAR</text><text class="v" x="867" y="3102.5">( 50 )</text><text class="s" x="951.5" y="3102">NOT NULL</text><text class="v" x="1036" y="3102.5">-</text>
<text class="n" x="581" y="3119.5">Id_Registro</text><text class="v" x="786.5" y="3118.5">INT</text><text class="v" x="867" y="3118.5">( 100 )</text><text class="s" x="951.5" y="3118">NOT NULL</text><text class="v" x="1036" y="3118.5">-</text>
<text class="n" x="581" y="3135.5">Acao</text><text class="v" x="786.5" y="3134.5">VARCHAR</text><text class="v" x="867" y="3134.5">( 15 )</text><text class="s" x="951.5" y="3134">NOT NULL</text><text class="v" x="1036" y="3134.5">-</text>
<text class="n" x="581" y="3152.5">Usuario_Responsavel</text><text class="v" x="786.5" y="3151">VARCHAR</text><text class="v" x="867" y="3151">( 50 )</text><text class="s" x="951.5" y="3150.5">NOT NULL</text><text class="v" x="1036" y="3151">-</text>
<text class="n" x="581" y="3168.5">Detalhes</text><text class="v" x="786.5" y="3167.5">JSON</text><text class="v" x="867" y="3167.5">-</text><text class="s" x="951.5" y="3167">NOT NULL</text><text class="v" x="1036" y="3167.5">-</text>
<text class="n" x="581" y="3200.5">Dt_Alteracao</text><text class="v" x="786.5" y="3191.5">TIMESTAMP</text><text class="v" x="867" y="3191.5">-</text><text class="s" x="951.5" y="3181">DEFAULT</text><text class="s" x="951.5" y="3190.5">CURRENT_TIMESTAM</text><text class="s" x="951.5" y="3199.5">P</text><text class="v" x="1036" y="3191.5">-</text>
</g>

<g id="ml-legend">
<rect class="yl" x="745" y="3220" width="83" height="16"/>
<rect class="pu" x="745" y="3236" width="83" height="16" stroke="#555" stroke-width="1"/>
<text class="lg" x="832" y="3231.5">Chave-Primária (Primary Key - PK)</text>
<text class="lg" x="832" y="3247.5">Chave Secundária (Foreign Key - FK)</text>
</g>

<g id="ml-estabelecimento">
<rect class="wh" x="1100" y="2611" width="497" height="117"/>
<rect class="hd" x="1100" y="2611" width="497" height="36"/>
<rect class="yl" x="1100" y="2647" width="497" height="16"/>
<rect class="pu" x="1100" y="2712" width="497" height="16"/>
<path class="ln" d="M1100 2647H1597M1100 2663H1597M1100 2679H1597M1100 2695H1597M1100 2712H1597M1267 2647V2728M1350 2647V2728M1428 2647V2728M1519 2647V2728"/>
<rect class="ob" x="1100" y="2611" width="497" height="117"/>
<text class="h" x="1348.5" y="2633">Estabelecimento_Farmaceutico</text>
<text class="n" x="1103" y="2659.5">Id_Estabelecimento</text><text class="v" x="1308.5" y="2658.5">INT</text><text class="v" x="1389" y="2658.5">-</text><text class="s" x="1473.5" y="2658">AUTO_INCREMENT</text><text class="v" x="1558" y="2658.5">PK</text>
<text class="n" x="1103" y="2675.5">Cod_Cnes_Estabelecimento</text><text class="v" x="1308.5" y="2674.5">INT</text><text class="v" x="1389" y="2674.5">-</text><text class="v" x="1473.5" y="2674.5">-</text><text class="v" x="1558" y="2674.5">-</text>
<text class="n" x="1103" y="2691.5">Razao_Social_Estabelecimento</text><text class="v" x="1308.5" y="2690.5">VARCHAR</text><text class="v" x="1389" y="2690.5">( 100 )</text><text class="v" x="1473.5" y="2690.5">-</text><text class="v" x="1558" y="2690.5">-</text>
<text class="n" x="1103" y="2708.5">Nome_Fantasia_Estabelecimento</text><text class="v" x="1308.5" y="2707">VARCHAR</text><text class="v" x="1389" y="2707">( 100 )</text><text class="v" x="1473.5" y="2707">-</text><text class="v" x="1558" y="2707">-</text>
<text class="n" x="1103" y="2724.5">Id_Endereco</text><text class="v" x="1308.5" y="2723.5">INT</text><text class="v" x="1389" y="2723.5">-</text><text class="v" x="1473.5" y="2723.5">-</text><text class="v" x="1558" y="2723.5">FK</text>
</g>

<g id="ml-endereco">
<rect class="wh" x="1100" y="2764" width="497" height="243"/>
<rect class="hd" x="1100" y="2764" width="497" height="36"/>
<rect class="yl" x="1100" y="2800" width="497" height="16"/>
<rect class="pu" x="1100" y="2816" width="497" height="17"/>
<path class="ln" d="M1100 2800H1597M1100 2816H1597M1100 2833H1597M1100 2869H1597M1100 2885H1597M1100 2903H1597M1100 2939H1597M1100 2955H1597M1100 2972H1597M1267 2800V3007M1350 2800V3007M1428 2800V3007M1519 2800V3007"/>
<rect class="ob" x="1100" y="2764" width="497" height="243"/>
<text class="h" x="1348.5" y="2786">Endereco</text>
<text class="n" x="1103" y="2812.5">Id_Endereco</text><text class="v" x="1308.5" y="2811.5">INT</text><text class="v" x="1389" y="2811.5">-</text><text class="s" x="1473.5" y="2811">AUTO_INCREMENT</text><text class="v" x="1558" y="2811.5">PK</text>
<text class="n" x="1103" y="2829.5">Id_Municipio</text><text class="v" x="1308.5" y="2828">INT</text><text class="v" x="1389" y="2828">-</text><text class="v" x="1473.5" y="2828">-</text><text class="v" x="1558" y="2828">FK</text>
<text class="n" x="1103" y="2865.5">Logradouro</text><text class="v" x="1308.5" y="2854.5">VARCHAR</text><text class="v" x="1389" y="2854.5">( 100 )</text><text class="v" x="1473.5" y="2854.5">-</text><text class="v" x="1558" y="2854.5">-</text>
<text class="n" x="1103" y="2881.5">Numero</text><text class="v" x="1308.5" y="2880.5">VARCHAR</text><text class="v" x="1389" y="2880.5">( 7 )</text><text class="v" x="1473.5" y="2880.5">-</text><text class="v" x="1558" y="2880.5">-</text>
<text class="n" x="1103" y="2899.5">Bairro</text><text class="v" x="1308.5" y="2897.5">VARCHAR</text><text class="v" x="1389" y="2897.5">( 25 )</text><text class="v" x="1473.5" y="2897.5">-</text><text class="v" x="1558" y="2897.5">-</text>
<text class="n" x="1103" y="2935.5">Complemento</text><text class="v" x="1308.5" y="2924.5">VARCHAR</text><text class="v" x="1389" y="2924.5">( 10 )</text><text class="v" x="1473.5" y="2924.5">-</text><text class="v" x="1558" y="2924.5">-</text>
<text class="n" x="1103" y="2951.5">Cep</text><text class="v" x="1308.5" y="2950.5">CHAR</text><text class="v" x="1389" y="2950.5">( 8 )</text><text class="v" x="1473.5" y="2950.5">-</text><text class="v" x="1558" y="2950.5">-</text>
<text class="n" x="1103" y="2968.5">Latitude</text><text class="v" x="1308.5" y="2967">DECIMAL</text><text class="v" x="1389" y="2967">( 10,&#160; 8)</text><text class="v" x="1473.5" y="2967">-</text><text class="v" x="1558" y="2967">-</text>
<text class="n" x="1103" y="3003.5">Longitude</text><text class="v" x="1308.5" y="2993">DECIMAL</text><text class="v" x="1389" y="2993">( 10,&#160; 8)</text><text class="v" x="1473.5" y="2993">-</text><text class="v" x="1558" y="2993">-</text>
</g>

<g id="page2-footer">
<text class="pg" x="61" y="4618">22/06/2024 14:40:31</text>
<text class="pg" x="1588" y="4618" text-anchor="end">2</text>
</g>
</svg>
